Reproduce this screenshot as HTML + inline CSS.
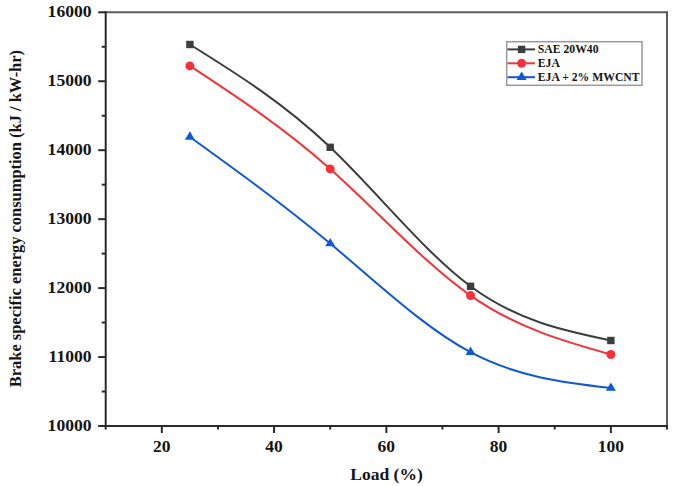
<!DOCTYPE html>
<html><head><meta charset="utf-8"><style>
html,body{margin:0;padding:0;background:#fff;}
body{width:685px;height:486px;overflow:hidden;}
svg{display:block;}
.t{font-family:"Liberation Serif",serif;font-weight:bold;font-size:17.5px;fill:#151515;}
.lg{font-family:"Liberation Serif",serif;font-weight:bold;font-size:11.7px;fill:#151515;}
</style></head><body>
<svg width="685" height="486" viewBox="0 0 685 486">
<line x1="105.7" y1="12.3" x2="667.0" y2="12.3" stroke="#5c5c5c" stroke-width="2"/>
<line x1="667.0" y1="11.3" x2="667.0" y2="427.0" stroke="#5c5c5c" stroke-width="2"/>
<line x1="105.7" y1="11.3" x2="105.7" y2="427.0" stroke="#2a2a2a" stroke-width="2"/>
<line x1="104.7" y1="426.0" x2="668.0" y2="426.0" stroke="#2a2a2a" stroke-width="2"/>
<line x1="98.2" y1="426.00" x2="105.7" y2="426.00" stroke="#2a2a2a" stroke-width="2"/>
<text x="91.6" y="430.80" text-anchor="end" class="t" style="font-size:17.6px">10000</text>
<line x1="101.7" y1="391.52" x2="105.7" y2="391.52" stroke="#2a2a2a" stroke-width="2"/>
<line x1="98.2" y1="357.05" x2="105.7" y2="357.05" stroke="#2a2a2a" stroke-width="2"/>
<text x="91.6" y="361.85" text-anchor="end" class="t" style="font-size:17.6px">11000</text>
<line x1="101.7" y1="322.57" x2="105.7" y2="322.57" stroke="#2a2a2a" stroke-width="2"/>
<line x1="98.2" y1="288.10" x2="105.7" y2="288.10" stroke="#2a2a2a" stroke-width="2"/>
<text x="91.6" y="292.90" text-anchor="end" class="t" style="font-size:17.6px">12000</text>
<line x1="101.7" y1="253.62" x2="105.7" y2="253.62" stroke="#2a2a2a" stroke-width="2"/>
<line x1="98.2" y1="219.15" x2="105.7" y2="219.15" stroke="#2a2a2a" stroke-width="2"/>
<text x="91.6" y="223.95" text-anchor="end" class="t" style="font-size:17.6px">13000</text>
<line x1="101.7" y1="184.68" x2="105.7" y2="184.68" stroke="#2a2a2a" stroke-width="2"/>
<line x1="98.2" y1="150.20" x2="105.7" y2="150.20" stroke="#2a2a2a" stroke-width="2"/>
<text x="91.6" y="155.00" text-anchor="end" class="t" style="font-size:17.6px">14000</text>
<line x1="101.7" y1="115.73" x2="105.7" y2="115.73" stroke="#2a2a2a" stroke-width="2"/>
<line x1="98.2" y1="81.25" x2="105.7" y2="81.25" stroke="#2a2a2a" stroke-width="2"/>
<text x="91.6" y="86.05" text-anchor="end" class="t" style="font-size:17.6px">15000</text>
<line x1="101.7" y1="46.77" x2="105.7" y2="46.77" stroke="#2a2a2a" stroke-width="2"/>
<line x1="98.2" y1="12.30" x2="105.7" y2="12.30" stroke="#2a2a2a" stroke-width="2"/>
<text x="91.6" y="17.10" text-anchor="end" class="t" style="font-size:17.6px">16000</text>
<line x1="105.70" y1="426.0" x2="105.70" y2="429.5" stroke="#2a2a2a" stroke-width="2"/>
<line x1="161.83" y1="426.0" x2="161.83" y2="433.0" stroke="#2a2a2a" stroke-width="2"/>
<text x="161.83" y="452" text-anchor="middle" class="t">20</text>
<line x1="217.96" y1="426.0" x2="217.96" y2="429.5" stroke="#2a2a2a" stroke-width="2"/>
<line x1="274.09" y1="426.0" x2="274.09" y2="433.0" stroke="#2a2a2a" stroke-width="2"/>
<text x="274.09" y="452" text-anchor="middle" class="t">40</text>
<line x1="330.22" y1="426.0" x2="330.22" y2="429.5" stroke="#2a2a2a" stroke-width="2"/>
<line x1="386.35" y1="426.0" x2="386.35" y2="433.0" stroke="#2a2a2a" stroke-width="2"/>
<text x="386.35" y="452" text-anchor="middle" class="t">60</text>
<line x1="442.48" y1="426.0" x2="442.48" y2="429.5" stroke="#2a2a2a" stroke-width="2"/>
<line x1="498.61" y1="426.0" x2="498.61" y2="433.0" stroke="#2a2a2a" stroke-width="2"/>
<text x="498.61" y="452" text-anchor="middle" class="t">80</text>
<line x1="554.74" y1="426.0" x2="554.74" y2="429.5" stroke="#2a2a2a" stroke-width="2"/>
<line x1="610.87" y1="426.0" x2="610.87" y2="433.0" stroke="#2a2a2a" stroke-width="2"/>
<text x="610.87" y="452" text-anchor="middle" class="t">100</text>
<line x1="667.00" y1="426.0" x2="667.00" y2="429.5" stroke="#2a2a2a" stroke-width="2"/>
<path d="M189.89,44.50 C236.67,73.66 283.44,102.83 330.22,147.30 C377.00,191.77 423.77,251.55 470.55,286.30 C517.32,321.05 564.09,330.78 610.87,340.50" fill="none" stroke="#3c3e3e" stroke-width="2"/>
<path d="M189.89,65.90 C236.67,96.62 283.44,127.34 330.22,168.90 C377.00,210.46 423.77,262.86 470.55,295.60 C517.32,328.34 564.09,341.42 610.87,354.50" fill="none" stroke="#f2343a" stroke-width="2"/>
<path d="M189.89,136.90 C236.67,170.63 283.44,204.35 330.22,243.50 C377.00,282.65 423.77,327.21 470.55,352.20 C517.32,377.19 564.09,382.59 610.87,388.00" fill="none" stroke="#0f58d6" stroke-width="2"/>
<rect x="186.19" y="40.80" width="7.40" height="7.40" fill="#3c3e3e"/>
<rect x="326.52" y="143.60" width="7.40" height="7.40" fill="#3c3e3e"/>
<rect x="466.85" y="282.60" width="7.40" height="7.40" fill="#3c3e3e"/>
<rect x="607.17" y="336.80" width="7.40" height="7.40" fill="#3c3e3e"/>
<circle cx="189.89" cy="65.90" r="4.50" fill="#f2343a"/>
<circle cx="330.22" cy="168.90" r="4.50" fill="#f2343a"/>
<circle cx="470.55" cy="295.60" r="4.50" fill="#f2343a"/>
<circle cx="610.87" cy="354.50" r="4.50" fill="#f2343a"/>
<path d="M189.89,131.30 L194.89,139.70 L184.89,139.70Z" fill="#0f58d6"/>
<path d="M330.22,237.90 L335.22,246.30 L325.22,246.30Z" fill="#0f58d6"/>
<path d="M470.55,346.60 L475.55,355.00 L465.55,355.00Z" fill="#0f58d6"/>
<path d="M610.87,382.40 L615.87,390.80 L605.87,390.80Z" fill="#0f58d6"/>
<rect x="506.7" y="41.7" width="135.3" height="43.6" fill="#fff" stroke="#9a9a9a" stroke-width="1.5"/>
<line x1="507.5" y1="49.4" x2="535" y2="49.4" stroke="#3c3e3e" stroke-width="2"/>
<rect x="517.90" y="45.70" width="7.40" height="7.40" fill="#3c3e3e"/>
<text x="537.8" y="52.80" class="lg">SAE 20W40</text>
<line x1="507.5" y1="63.3" x2="535" y2="63.3" stroke="#f2343a" stroke-width="2"/>
<circle cx="521.60" cy="63.30" r="4.50" fill="#f2343a"/>
<text x="537.8" y="66.70" class="lg">EJA</text>
<line x1="507.5" y1="77.2" x2="535" y2="77.2" stroke="#0f58d6" stroke-width="2"/>
<path d="M521.60,71.60 L526.60,80.00 L516.60,80.00Z" fill="#0f58d6"/>
<text x="537.8" y="80.60" class="lg">EJA + 2% MWCNT</text>
<text x="386.5" y="479.9" text-anchor="middle" class="t">Load (%)</text>
<text transform="translate(21.2,218.6) rotate(-90)" text-anchor="middle" class="t" style="font-size:16.45px">Brake specific energy consumption (kJ / kW-hr)</text>
</svg>
</body></html>
